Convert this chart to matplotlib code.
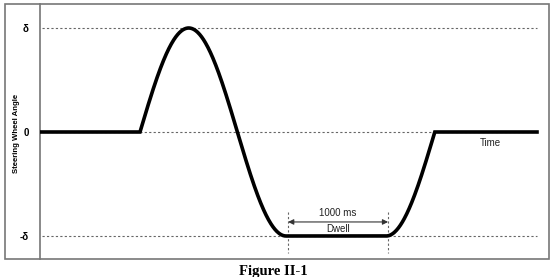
import numpy as np
import matplotlib
matplotlib.use("Agg")
import matplotlib.pyplot as plt
from matplotlib.patches import Rectangle

# ---- data (time in ms, angle in units of delta) ----
steer_start_ms = 1000      # sine begins
quarter_period_ms = 487    # 0 -> peak takes this long
dwell_ms = 1000            # hold at -delta
end_ms = 4970              # trace ends
amplitude = 1.0            # delta
ytick_values = [-1, 0, 1]
ytick_labels = ["-δ", "0", "δ"]
grid_levels = [-1, 0, 1]
x_label = "Time"
y_label = "Steering Wheel Angle"
caption = "Figure II-1"

# build sine-with-dwell trace from the parameters
t_trough = steer_start_ms + 3 * quarter_period_ms
t_dwell_end = t_trough + dwell_ms
t_final_zero = t_dwell_end + quarter_period_ms

t1 = np.linspace(steer_start_ms, t_trough, 300)
y1 = amplitude * np.sin((t1 - steer_start_ms) / quarter_period_ms * np.pi / 2)
t2 = np.linspace(t_dwell_end, t_final_zero, 100)
y2 = amplitude * np.sin(1.5 * np.pi + (t2 - t_dwell_end) / quarter_period_ms * np.pi / 2)
t = np.concatenate([[0], t1, t2, [end_ms]])
y = np.concatenate([[0], y1, y2, [0]])

W, H = 552, 277
fig = plt.figure(figsize=(W / 100, H / 100), dpi=100)
left_px, right_px, top_px, bot_px = 40, 549, 4, 259
ax = fig.add_axes([left_px / W, 1 - bot_px / H, (right_px - left_px) / W, (bot_px - top_px) / H])

ax.set_xlim(0, (right_px - left_px) * 10)
ax.set_ylim(-(bot_px - 132) / 104, (132 - top_px) / 104)

for lvl in grid_levels:
    ax.plot([20, end_ms], [lvl, lvl], color="#666666", lw=0.8, ls=(0, (2, 2)), zorder=1)

ax.plot(t, y, color="black", lw=2.6, solid_joinstyle="miter", zorder=3)

# dwell markers
for xv in (t_trough + 20, t_dwell_end + 20):
    ax.plot([xv, xv], [-0.77, -1.163], color="#666666", lw=0.8, ls=(0, (2, 2)), zorder=2)
ax.annotate("", xy=(t_trough + 20, -0.865), xytext=(t_dwell_end + 20, -0.865),
            arrowprops=dict(arrowstyle="<|-|>", color="#333333", lw=0.8,
                            mutation_scale=8, shrinkA=0, shrinkB=0))
mid = (t_trough + t_dwell_end) / 2 + 20
ax.text(mid, -0.78, "1000 ms", ha="center", va="center", fontsize=7,
        family="Liberation Sans", color="#222222")
ax.text(mid, -0.935, "Dwell", ha="center", va="center", fontsize=7,
        family="Liberation Sans", color="#222222")

ax.text(4500, -0.11, x_label, ha="center", va="center", fontsize=7,
        family="Liberation Sans", color="#222222")

for s in ("top", "right", "bottom"):
    ax.spines[s].set_visible(False)
ax.spines["left"].set_color("#808080")
ax.spines["left"].set_linewidth(1.3)
ax.set_xticks([])
ax.set_yticks(ytick_values)
ax.set_yticklabels(ytick_labels, fontsize=7, fontweight="bold", family="Liberation Sans")
ax.tick_params(axis="y", length=0, pad=8)

fig.text(17 / W, 1 - 133 / H, y_label, rotation=90, ha="center", va="center",
         fontsize=5.6, fontweight="bold", family="Liberation Sans")

fig.patches.append(Rectangle((5 / W, 1 - 259 / H), 544 / W, 255 / H, transform=fig.transFigure,
                             fill=False, edgecolor="#777777", lw=1.2))

fig.text(273 / W, 1 - 271 / H, caption, ha="center", va="center", fontsize=10.5,
         fontweight="bold", family="Liberation Serif")

fig.savefig("out.png", dpi=100)
